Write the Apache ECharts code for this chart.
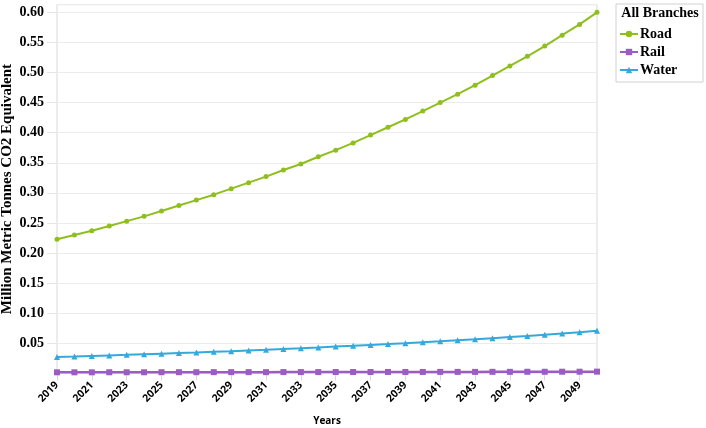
<!DOCTYPE html>
<html>
<head>
<meta charset="utf-8">
<script src="https://cdn.jsdelivr.net/npm/echarts@6/dist/echarts.min.js"></script>
<style>
html,body{margin:0;padding:0;background:#fff;}
#chart{width:706px;height:428px;}
</style>
</head>
<body>
<div id="chart"></div>
<script>
var years = ['2019','2020','2021','2022','2023','2024','2025','2026','2027','2028','2029','2030','2031','2032','2033','2034','2035','2036','2037','2038','2039','2040','2041','2042','2043','2044','2045','2046','2047','2048','2049','2050'];
var road = [0.223,0.230,0.237,0.245,0.253,0.261,0.270,0.279,0.288,0.297,0.307,0.317,0.327,0.338,0.348,0.360,0.371,0.383,0.396,0.409,0.422,0.436,0.450,0.464,0.479,0.495,0.511,0.527,0.544,0.562,0.580,0.600];
var rail = [0.0018,0.0018,0.0018,0.0019,0.0019,0.0019,0.0020,0.0020,0.0020,0.0021,0.0021,0.0021,0.0021,0.0022,0.0022,0.0022,0.0023,0.0023,0.0023,0.0024,0.0024,0.0024,0.0025,0.0025,0.0025,0.0026,0.0026,0.0027,0.0027,0.0028,0.0028,0.0029];
var water = [0.0273,0.0281,0.0290,0.0299,0.0308,0.0318,0.0328,0.0338,0.0348,0.0359,0.0370,0.0382,0.0393,0.0406,0.0418,0.0431,0.0445,0.0458,0.0473,0.0487,0.0502,0.0518,0.0534,0.0551,0.0568,0.0586,0.0604,0.0622,0.0642,0.0662,0.0682,0.0710];
var yTicks = ['0.05','0.10','0.15','0.20','0.25','0.30','0.35','0.40','0.45','0.50','0.55','0.60'];

var chart = echarts.init(document.getElementById('chart'));
var serif = '"Liberation Serif","Times New Roman",serif';
var sans = '"Open Sans","Noto Sans",sans-serif';
chart.setOption({
  animation:false,
  backgroundColor:'#fff',
  grid:{left:57,right:109,top:4.7,bottom:54.6,outerBoundsMode:'none',containLabel:false,show:true,borderColor:'#d9d9d9',borderWidth:1,backgroundColor:'transparent'},
  legend:{
    show:true,
    orient:'vertical',
    left:614, top:22,
    itemWidth:18,itemHeight:8,itemGap:4,
    textStyle:{fontFamily:serif,fontWeight:'bold',fontSize:14,color:'#000',padding:[0,0,0,-3]},
    data:['Road','Rail','Water']
  },
  graphic:[
    {type:'rect',shape:{x:616,y:4,width:87,height:78},style:{fill:'none',stroke:'#d0d0d0',lineWidth:1}},
    {type:'text',style:{x:660,y:13.5,text:'All Branches',align:'center',verticalAlign:'middle',font:'bold 14px '+serif,fill:'#000'}}
  ],
  xAxis:{
    type:'category',
    data:years,
    boundaryGap:false,
    name:'Years',
    nameLocation:'middle',
    nameGap:43,
    nameMoveOverlap:false,
    nameTextStyle:{fontFamily:sans,fontWeight:'bold',fontSize:10,color:'#000'},
    axisLine:{show:false},
    axisTick:{show:true,interval:1,length:7,lineStyle:{color:'#d9d9d9'}},
    axisLabel:{interval:1,rotate:45,margin:10,fontFamily:sans,fontWeight:'bold',fontSize:10.5,color:'#000'},
    splitLine:{show:false}
  },
  yAxis:{
    type:'value',
    min:0,max:0.6127,interval:0.05,
    name:'Million Metric Tonnes CO2 Equivalent',
    nameLocation:'middle',
    nameGap:42,
    nameMoveOverlap:false,
    nameTextStyle:{fontFamily:serif,fontWeight:'bold',fontSize:15,color:'#000'},
    axisLine:{show:false},
    axisTick:{show:true,length:10,lineStyle:{color:'#e6e6e6'}},
    axisLabel:{margin:13,fontFamily:serif,fontWeight:'bold',fontSize:14,color:'#000',
      showMinLabel:false,showMaxLabel:false,
      formatter:function(v){var s=v.toFixed(2);return yTicks.indexOf(s)>=0?s:'';}},
    splitLine:{show:true,lineStyle:{color:'#ececec',width:1}}
  },
  series:[
    {name:'Road',type:'line',data:road,color:'#8fbf1f',symbol:'circle',symbolSize:5,showSymbol:true,lineStyle:{width:2},itemStyle:{color:'#8fbf1f'}},
    {name:'Rail',type:'line',data:rail,color:'#9b5cc4',symbol:'rect',symbolSize:6,showSymbol:true,lineStyle:{width:2.5},itemStyle:{color:'#9b5cc4'}},
    {name:'Water',type:'line',data:water,color:'#35a8dc',symbol:'triangle',symbolSize:6,showSymbol:true,lineStyle:{width:2},itemStyle:{color:'#35a8dc'}}
  ]
});
</script>
</body>
</html>
